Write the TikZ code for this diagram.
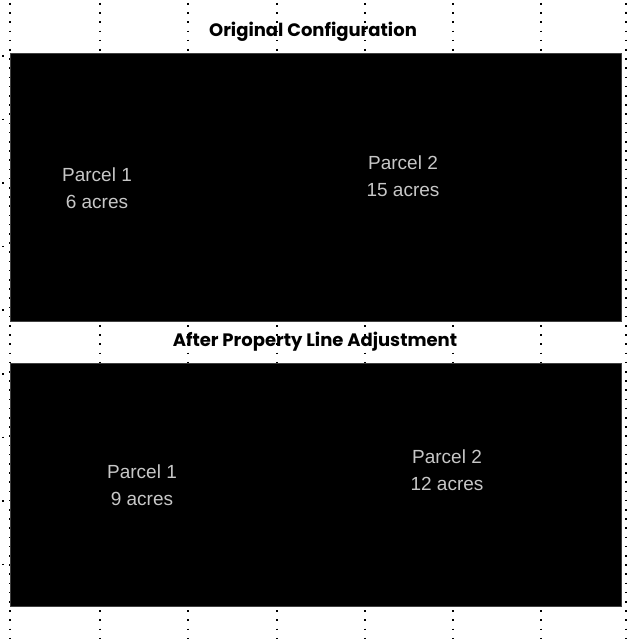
\documentclass[tikz,border=0pt]{standalone}
\usepackage{fontspec}
\setmainfont{Liberation Sans}
\newfontfamily\titlefont{Poppins}
\begin{document}
\begin{tikzpicture}[x=1pt,y=-1pt,
  dotcol/.style={line width=1.6pt, dash pattern=on 1.6pt off 7.6pt, black},
  plotbox/.style={fill=black, draw=black!75, line width=0.8pt, inner sep=0, outer sep=0, anchor=north west},
  titletext/.style={font=\titlefont\bfseries\fontsize{18}{20}\selectfont, inner sep=0},
  parceltext/.style={font=\fontsize{19}{27}\selectfont, text=black!22, align=center, inner sep=0}]
\useasboundingbox (0,0) rectangle (634,644);
\foreach \x in {10,100,188,277,365,453,541,626} \draw[dotcol] (\x,3) -- (\x,644);
\draw[line width=1.6pt, dash pattern=on 1.6pt off 62pt] (3,55) -- (3,600);
\node[plotbox, minimum width=611pt, minimum height=268pt] (orig) at (10,53) {};
\node[plotbox, minimum width=611pt, minimum height=243pt] (after) at (10,363) {};
\node[titletext] (t1) at (313,32) {Original Configuration};
\node[titletext] (t2) at (315,342) {After Property Line Adjustment};
\node[parceltext] (o1) at (97,188) {Parcel 1\\6 acres};
\node[parceltext] (o2) at (403,176) {Parcel 2\\15 acres};
\node[parceltext] (a1) at (142,485) {Parcel 1\\9 acres};
\node[parceltext] (a2) at (447,470) {Parcel 2\\12 acres};
\end{tikzpicture}
\end{document}
